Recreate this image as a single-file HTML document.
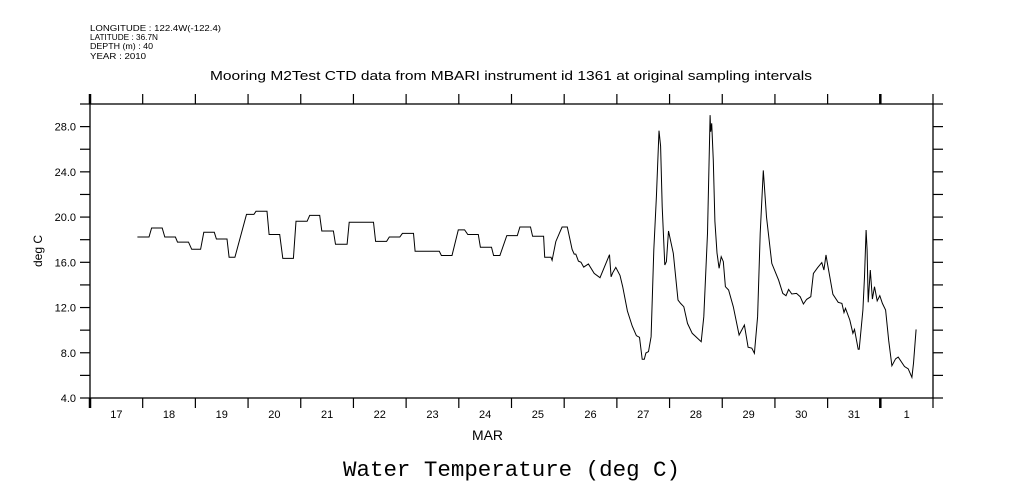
<!DOCTYPE html>
<html><head><meta charset="utf-8"><style>
body{margin:0;background:#fff}
svg{display:block;font-family:"Liberation Sans",sans-serif}
</style></head><body>
<svg id="chart" width="1009" height="504" viewBox="0 0 1009 504">
<g font-size="8.5" fill="#000">
<text x="90" y="31" textLength="131" lengthAdjust="spacingAndGlyphs">LONGITUDE : 122.4W(-122.4)</text>
<text x="90" y="40" textLength="68" lengthAdjust="spacingAndGlyphs">LATITUDE : 36.7N</text>
<text x="90" y="49" textLength="63" lengthAdjust="spacingAndGlyphs">DEPTH (m) : 40</text>
<text x="90" y="59" textLength="56" lengthAdjust="spacingAndGlyphs">YEAR : 2010</text>
</g>
<text x="210" y="80" textLength="602" lengthAdjust="spacingAndGlyphs" font-size="12.5">Mooring M2Test CTD data from MBARI instrument id 1361 at original sampling intervals</text>
<text x="42" y="251" text-anchor="middle" font-size="12" transform="rotate(-90 42 251)">deg C</text>
<text x="472" y="440" textLength="31" lengthAdjust="spacingAndGlyphs" font-size="14">MAR</text>
<text x="343" y="476" textLength="337" lengthAdjust="spacingAndGlyphs" font-size="22" font-family="Liberation Mono,monospace">Water Temperature (deg C)</text>
<g id="axes"></g>
<g id="plot"></g>
</svg>
<script>
const xDomain=[17,33];
const yDomain=[4,30];
const yTickValues=[4,8,12,16,20,24,28];
const yTickLabels=["4.0","8.0","12.0","16.0","20.0","24.0","28.0"];
const xDayLabels=["17","18","19","20","21","22","23","24","25","26","27","28","29","30","31","1"];
const days=[17.90,18.12,18.17,18.37,18.42,18.62,18.66,18.87,18.93,19.10,19.16,19.36,19.40,19.60,19.64,19.75,19.97,20.11,20.15,20.36,20.40,20.60,20.66,20.86,20.91,21.12,21.17,21.36,21.40,21.62,21.66,21.88,21.92,22.38,22.42,22.63,22.68,22.88,22.93,23.14,23.17,23.63,23.67,23.87,23.99,24.11,24.17,24.37,24.41,24.62,24.66,24.78,24.91,25.11,25.16,25.36,25.40,25.61,25.63,25.75,25.77,25.84,25.92,25.96,26.06,26.15,26.19,26.22,26.27,26.32,26.37,26.46,26.57,26.68,26.86,26.89,26.92,26.98,27.06,27.11,27.20,27.29,27.37,27.43,27.48,27.52,27.55,27.60,27.65,27.70,27.75,27.80,27.83,27.86,27.91,27.94,27.98,28.07,28.16,28.21,28.27,28.34,28.43,28.60,28.65,28.72,28.77,28.78,28.80,28.83,28.86,28.90,28.94,28.98,29.02,29.06,29.12,29.21,29.32,29.42,29.49,29.56,29.61,29.67,29.72,29.78,29.84,29.94,30.07,30.15,30.21,30.26,30.32,30.41,30.48,30.54,30.60,30.68,30.73,30.81,30.89,30.93,30.97,30.99,31.10,31.20,31.27,31.31,31.34,31.42,31.48,31.51,31.58,31.60,31.67,31.70,31.73,31.75,31.77,31.81,31.85,31.89,31.94,31.99,32.04,32.10,32.16,32.22,32.29,32.34,32.46,32.53,32.60,32.63,32.68];
const temps=[18.24,18.24,19.03,19.03,18.24,18.24,17.79,17.79,17.15,17.15,18.65,18.65,18.06,18.06,16.44,16.44,20.24,20.24,20.51,20.51,18.46,18.46,16.35,16.35,19.63,19.63,20.15,20.15,18.77,18.77,17.59,17.59,19.54,19.54,17.85,17.85,18.24,18.24,18.56,18.56,16.97,16.97,16.6,16.6,18.87,18.87,18.46,18.46,17.33,17.33,16.6,16.6,18.36,18.36,19.12,19.12,18.30,18.30,16.44,16.44,16.18,17.83,18.70,19.12,19.12,17.15,16.73,16.73,16.11,16.0,15.58,15.85,15.02,14.64,16.67,14.72,15.07,15.55,14.84,13.84,11.69,10.37,9.51,9.37,7.42,7.42,7.98,8.1,9.42,17.09,21.80,27.64,26.28,20.92,15.76,16.06,18.77,16.8,12.66,12.37,12.07,10.6,9.72,8.98,11.19,18.56,29.02,27.55,28.29,25.0,19.63,16.83,15.47,16.5,16.06,13.84,13.55,12.07,9.57,10.46,8.49,8.40,7.95,11.19,18.56,24.13,20.02,15.9,14.43,13.25,13.05,13.6,13.2,13.25,12.96,12.31,12.72,12.96,15.02,15.52,15.97,15.32,16.65,16.06,13.17,12.46,12.37,11.55,11.93,10.9,9.72,10.07,8.31,8.31,11.78,14.72,18.86,17.09,12.46,15.32,12.75,13.84,12.6,13.05,12.37,11.78,9.08,6.85,7.47,7.62,6.79,6.58,5.83,7.07,10.07];

const L=90,R=933,T=104,B=398;
const X=d=>L+(d-xDomain[0])/(xDomain[1]-xDomain[0])*(R-L);
const Y=v=>B-(v-yDomain[0])/(yDomain[1]-yDomain[0])*(B-T);
const NS="http://www.w3.org/2000/svg";
const axes=document.getElementById('axes'),plot=document.getElementById('plot');
function mk(tag,attrs,parent){const e=document.createElementNS(NS,tag);for(const k in attrs)e.setAttribute(k,attrs[k]);parent.appendChild(e);return e;}

const frame=mk('rect',{x:L,y:T,width:R-L,height:B-T,fill:'none',stroke:'#000','stroke-width':1.3},axes);



for(let v=yDomain[0];v<=yDomain[1];v+=2){
  const y=Y(v);
  const t1=mk('line',{x1:L-10,x2:L,y1:y,y2:y,stroke:'#000','stroke-width':1.2},axes);
  
  
  const t2=mk('line',{x1:R,x2:R+10,y1:y,y2:y,stroke:'#000','stroke-width':1.2},axes);
  
  
}
yTickValues.forEach((v,i)=>{
  const t=mk('text',{x:L-14,y:Y(v)+4,'text-anchor':'end','font-size':11},axes);
  t.textContent=yTickLabels[i];
  
  
});
for(let d=xDomain[0];d<=xDomain[1];d++){
  const x=X(d),major=(d===17||d===32);
  const t1=mk('line',{x1:x,x2:x,y1:T-10,y2:T,stroke:'#000','stroke-width':major?2.5:1.2},axes);
  
  
  const t2=mk('line',{x1:x,x2:x,y1:B,y2:B+10,stroke:'#000','stroke-width':major?2.5:1.2},axes);
  
  
}
xDayLabels.forEach((s,i)=>{
  const t=mk('text',{x:X(xDomain[0]+i+0.5),y:418,'text-anchor':'middle','font-size':11},axes);
  t.textContent=s;
  
  
});
const pts=days.map((d,i)=>X(d).toFixed(1)+','+Y(temps[i]).toFixed(1)).join(' ');
const line=mk('polyline',{points:pts,fill:'none',stroke:'#000','stroke-width':1},plot);


</script>
</body></html>
